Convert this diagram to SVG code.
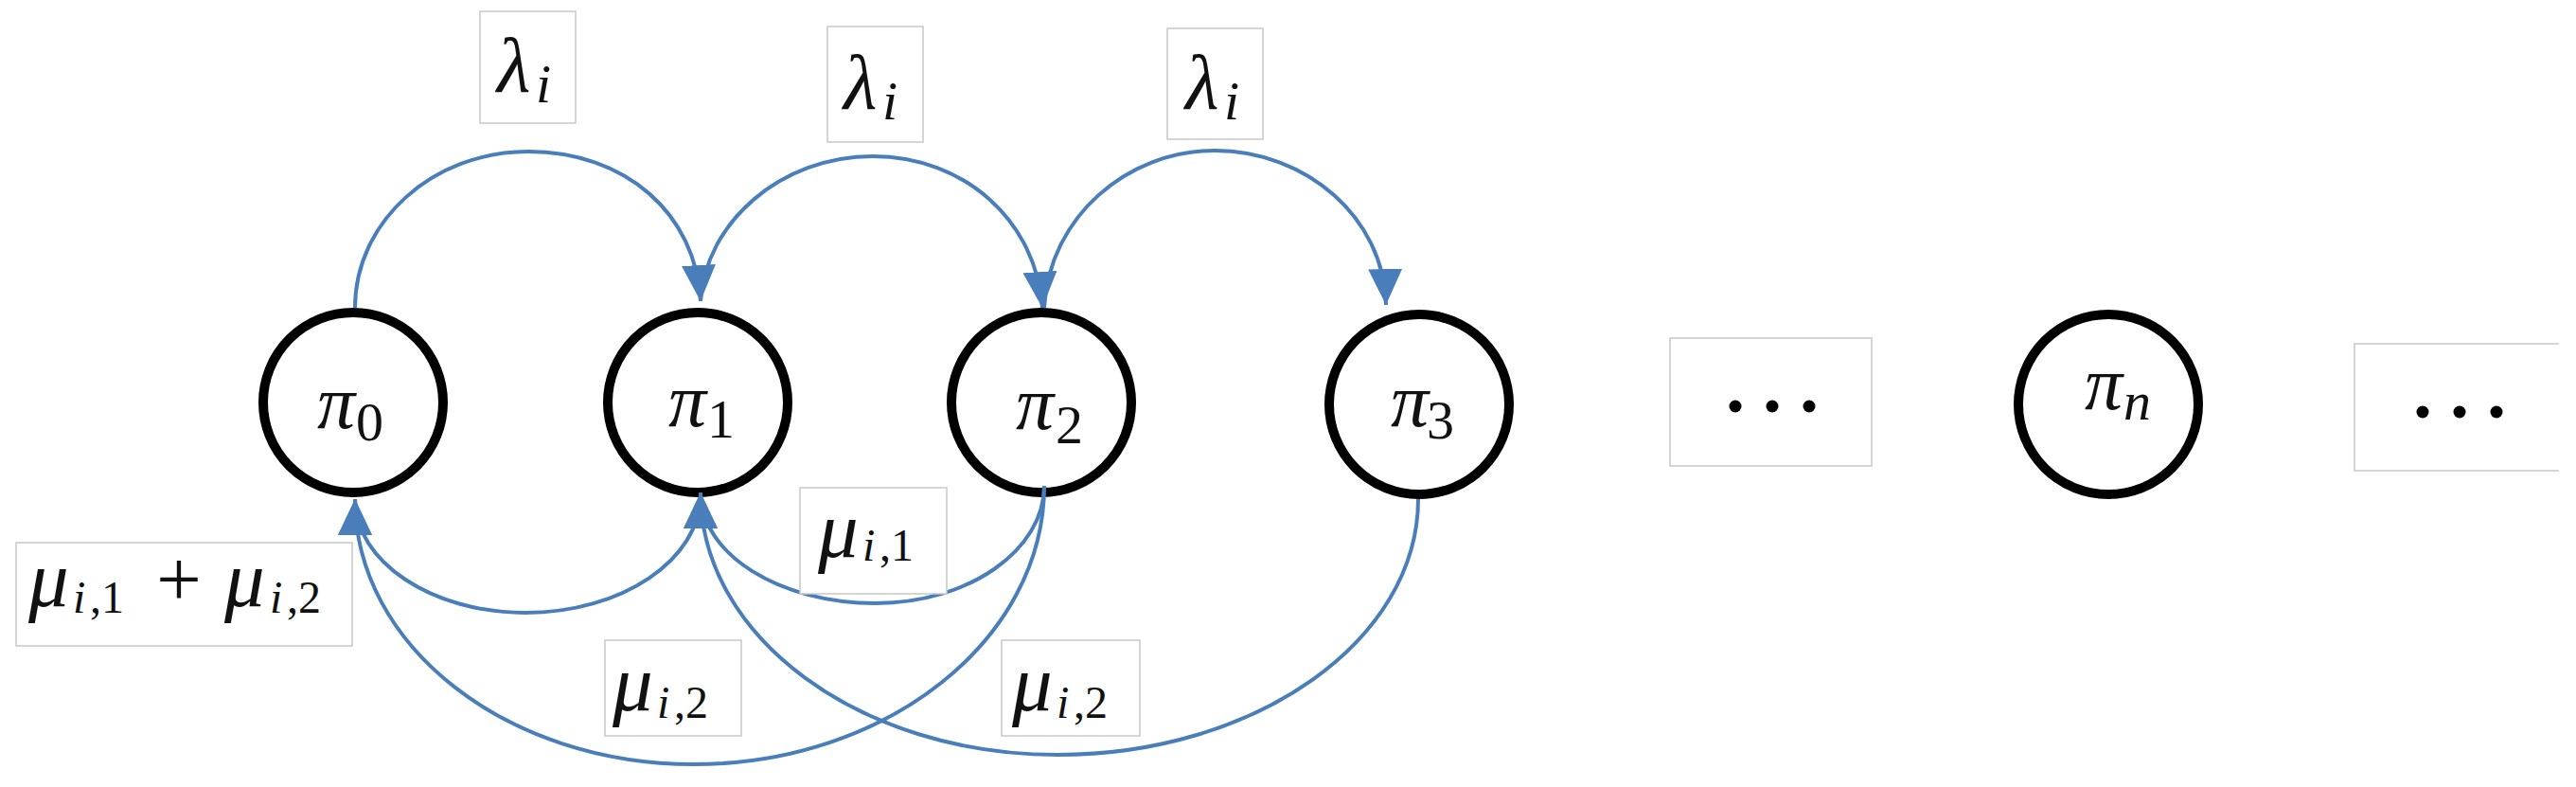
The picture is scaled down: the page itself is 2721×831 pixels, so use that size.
<svg xmlns="http://www.w3.org/2000/svg" width="2721" height="831" viewBox="0 0 2721 831">
<style>
.node{fill:#fff;stroke:#000;stroke-width:10}
.edge{fill:none;stroke:#4a7ebb;stroke-width:4}
.box{fill:#fff;stroke:#c8c8c8;stroke-width:1.5}
.m{font-family:"Liberation Serif","DejaVu Serif",serif;fill:#111}
.it{font-style:italic}
.dot{fill:#000}
</style>
<defs>
<marker id="arr" markerUnits="userSpaceOnUse" markerWidth="38" markerHeight="36" viewBox="0 0 38 36" refX="38" refY="18" orient="auto">
<path d="M0,0 L38,18 L0,36 z" fill="#4a7ebb"/>
</marker>
</defs>
<rect width="2721" height="831" fill="#fff"/>

<g id="pi0"><circle class="node" cx="373" cy="425" r="95"/>
<text class="m"><tspan class="it" x="335" y="452" font-size="80">π</tspan><tspan x="376" y="465" font-size="58">0</tspan></text></g>
<g id="pi1"><circle class="node" cx="737" cy="425" r="95"/>
<text class="m"><tspan class="it" x="706" y="450" font-size="80">π</tspan><tspan x="747" y="462" font-size="58">1</tspan></text></g>
<g id="pi2"><circle class="node" cx="1100" cy="425" r="95"/>
<text class="m"><tspan class="it" x="1073" y="453" font-size="80">π</tspan><tspan x="1115" y="468" font-size="58">2</tspan></text></g>
<g id="pi3"><circle class="node" cx="1499" cy="427" r="95"/>
<text class="m"><tspan class="it" x="1469" y="450" font-size="80">π</tspan><tspan x="1507" y="463" font-size="58">3</tspan></text></g>
<g id="pin"><circle class="node" cx="2227" cy="427" r="95"/>
<text class="m"><tspan class="it" x="2202" y="432" font-size="80">π</tspan><tspan class="it" x="2243" y="443" font-size="58">n</tspan></text></g>

<g id="connectors">
<path class="edge" marker-end="url(#arr)" d="M375,325 C375,234 457,160 558,160 C660,160 735,225 740,318"/>
<path class="edge" marker-end="url(#arr)" d="M740,318 C745,235 825,165 922,165 C1020,165 1095,235 1101,325"/>
<path class="edge" marker-end="url(#arr)" d="M1103,325 C1108,230 1190,159 1283,159 C1380,159 1462,230 1464,322"/>
<path class="edge" marker-end="url(#arr)" d="M740,522 C740,591 657,647 555,647 C456,647 375,593 375,527"/>
<path class="edge" marker-end="url(#arr)" d="M1103,513 C1103,581 1023,637 925,637 C823,637 740,585 740,520"/>
<path class="edge" marker-end="url(#arr)" d="M1103,513 C1103,675 937,807 733,807 C535,807 375,682 375,527"/>
<path class="edge" marker-end="url(#arr)" d="M1498,527 C1498,676 1327,797 1117,797 C909,797 740,673 740,520"/>
</g>

<g id="lbl-l1"><rect class="box" x="507" y="12" width="101" height="118"/>
<text class="m"><tspan class="it" x="525" y="97" font-size="82">λ</tspan><tspan class="it" x="566" y="108" font-size="58">i</tspan></text></g>
<g id="lbl-l2"><rect class="box" x="874" y="28" width="101" height="122"/>
<text class="m"><tspan class="it" x="891" y="115" font-size="82">λ</tspan><tspan class="it" x="932" y="126" font-size="58">i</tspan></text></g>
<g id="lbl-l3"><rect class="box" x="1233" y="30" width="101" height="117"/>
<text class="m"><tspan class="it" x="1252" y="115" font-size="82">λ</tspan><tspan class="it" x="1293" y="126" font-size="58">i</tspan></text></g>

<g id="lbl-mu12"><rect class="box" x="17" y="573" width="355" height="109"/>
<text class="m"><tspan class="it" x="30" y="640" font-size="85">μ</tspan><tspan class="it" x="77" y="647" font-size="48">i</tspan><tspan x="95" y="647" font-size="48">,1</tspan><tspan x="165" y="640" font-size="85">+</tspan><tspan class="it" x="237" y="640" font-size="85">μ</tspan><tspan class="it" x="285" y="647" font-size="48">i</tspan><tspan x="303" y="647" font-size="48">,2</tspan></text></g>
<g id="lbl-mu1"><rect class="box" x="845" y="515" width="155" height="112"/>
<text class="m"><tspan class="it" x="864" y="588" font-size="85">μ</tspan><tspan class="it" x="911" y="592" font-size="48">i</tspan><tspan x="929" y="592" font-size="48">,1</tspan></text></g>
<g id="lbl-mu2a"><rect class="box" x="639" y="676" width="144" height="101"/>
<text class="m"><tspan class="it" x="647" y="750" font-size="85">μ</tspan><tspan class="it" x="694" y="758" font-size="48">i</tspan><tspan x="712" y="758" font-size="48">,2</tspan></text></g>
<g id="lbl-mu2b"><rect class="box" x="1058" y="676" width="146" height="101"/>
<text class="m"><tspan class="it" x="1069" y="750" font-size="85">μ</tspan><tspan class="it" x="1116" y="758" font-size="48">i</tspan><tspan x="1134" y="758" font-size="48">,2</tspan></text></g>

<g id="dots1"><rect class="box" x="1764" y="357" width="213" height="135"/>
<circle class="dot" cx="1833" cy="429" r="6.5"/><circle class="dot" cx="1872" cy="429" r="6.5"/><circle class="dot" cx="1911" cy="429" r="6.5"/></g>
<g id="dots2"><path class="box" d="M2703,363 H2487 V497 H2703"/>
<circle class="dot" cx="2559" cy="435" r="6.5"/><circle class="dot" cx="2598" cy="435" r="6.5"/><circle class="dot" cx="2637" cy="435" r="6.5"/></g>
</svg>
